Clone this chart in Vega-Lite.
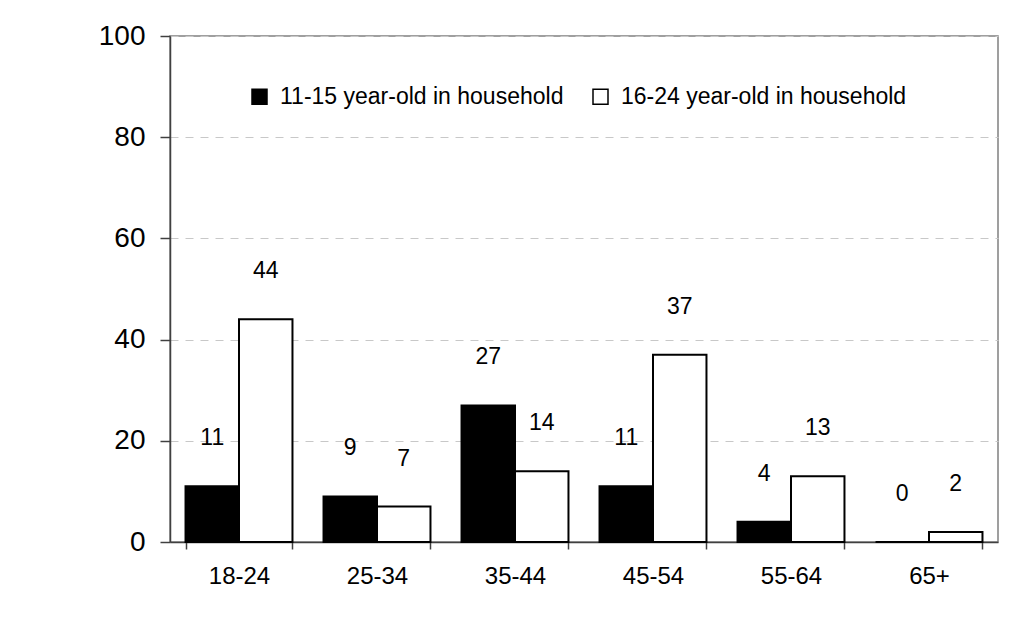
{
  "$schema": "https://vega.github.io/schema/vega-lite/v6.json",
  "autosize": "none",
  "width": 828,
  "height": 506,
  "padding": {"left": 170, "top": 36, "right": 16, "bottom": 87},
  "background": "white",
  "config": {
    "font": "Liberation Sans",
    "view": {"stroke": "#808080", "strokeWidth": 1.5}
  },
  "data": {
    "values": [
      {"age": "18-24", "group": "11-15 year-old in household", "pct": 11},
      {"age": "18-24", "group": "16-24 year-old in household", "pct": 44},
      {"age": "25-34", "group": "11-15 year-old in household", "pct": 9},
      {"age": "25-34", "group": "16-24 year-old in household", "pct": 7},
      {"age": "35-44", "group": "11-15 year-old in household", "pct": 27},
      {"age": "35-44", "group": "16-24 year-old in household", "pct": 14},
      {"age": "45-54", "group": "11-15 year-old in household", "pct": 11},
      {"age": "45-54", "group": "16-24 year-old in household", "pct": 37},
      {"age": "55-64", "group": "11-15 year-old in household", "pct": 4},
      {"age": "55-64", "group": "16-24 year-old in household", "pct": 13},
      {"age": "65+", "group": "11-15 year-old in household", "pct": 0},
      {"age": "65+", "group": "16-24 year-old in household", "pct": 2}
    ]
  },
  "encoding": {
    "x": {
      "field": "age",
      "type": "nominal",
      "sort": null,
      "scale": {"paddingInner": 0.225, "paddingOuter": 0.1125},
      "axis": {
        "title": null,
        "labelAngle": 0,
        "labelFontSize": 24,
        "labelColor": "black",
        "labelPadding": 15,
        "tickBand": "extent",
        "tickSize": 7,
        "tickColor": "#404040",
        "tickWidth": 1.5,
        "domainColor": "#404040",
        "domainWidth": 1.5
      }
    },
    "xOffset": {
      "field": "group",
      "type": "nominal",
      "sort": null,
      "scale": {"paddingInner": 0, "paddingOuter": 0}
    },
    "y": {
      "field": "pct",
      "type": "quantitative",
      "scale": {"domain": [0, 100], "nice": false},
      "axis": {
        "title": null,
        "values": [0, 20, 40, 60, 80, 100],
        "labelFontSize": 28,
        "labelColor": "black",
        "labelPadding": 15,
        "tickSize": 10,
        "tickColor": "#404040",
        "tickWidth": 1.5,
        "domainColor": "#404040",
        "domainWidth": 1.5,
        "grid": true,
        "gridColor": "#c8c8c8",
        "gridDash": [8, 7],
        "gridWidth": 1
      }
    }
  },
  "layer": [
    {
      "mark": {"type": "bar", "stroke": "black", "strokeWidth": 2, "strokeJoin": "miter"},
      "encoding": {
        "fill": {
          "field": "group",
          "type": "nominal",
          "sort": null,
          "scale": {"range": ["black", "white"]},
          "legend": {
            "title": null,
            "orient": "none",
            "legendX": 78,
            "legendY": 49,
            "direction": "horizontal",
            "symbolType": "square",
            "symbolSize": 225,
            "symbolStrokeColor": "black",
            "symbolStrokeWidth": 1.5,
            "labelFontSize": 23,
            "labelColor": "black",
            "labelOffset": 9,
            "columnPadding": 25,
            "labelLimit": 400
          }
        }
      }
    },
    {
      "mark": {"type": "text", "dy": -48, "fontSize": 23, "color": "black", "baseline": "middle"},
      "encoding": {
        "text": {"field": "pct", "type": "quantitative"}
      }
    }
  ]
}
